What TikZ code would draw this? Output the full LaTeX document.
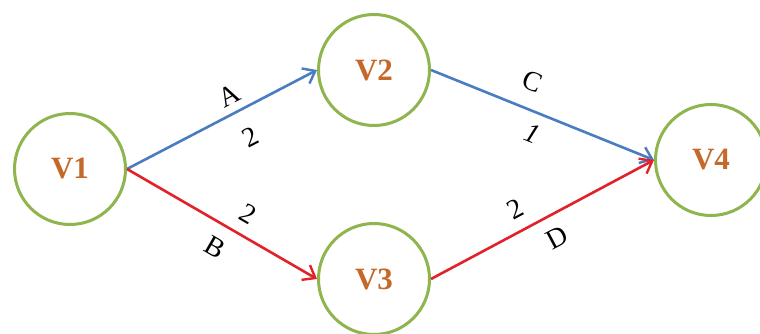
\documentclass[tikz,border=0pt]{standalone}
\usepackage{fontspec}
\setmainfont{Liberation Serif}
\usetikzlibrary{arrows.meta}
\definecolor{ringgreen}{HTML}{8FB54E}
\definecolor{vtext}{HTML}{C4692A}
\definecolor{eblue}{HTML}{4A7CC0}
\definecolor{ered}{HTML}{E2222A}
\tikzset{
  vnode/.style={circle,draw=ringgreen,line width=3pt,minimum size=111pt,inner sep=0pt,
    font=\fontsize{31}{31}\selectfont\bfseries,text=vtext},
  edgearrow/.style={line width=2.6pt,-{Straight Barb[length=11pt,width=17pt,line width=2.4pt]}},
  elabel/.style={inner sep=0pt,sloped,font=\fontsize{28}{28}\selectfont,text=black}
}
\begin{document}
\begin{tikzpicture}[x=1pt,y=-1pt]
\useasboundingbox (0,0) rectangle (760,334);
\fill[white] (0,0) rectangle (760,334);
\clip (0,0) rectangle (760,334);
\node[vnode] (v1) at (70,169) {V1};
\node[vnode] (v2) at (374,70) {V2};
\node[vnode] (v3) at (374,279) {V3};
\node[vnode] (v4) at (711,160) {V4};
\draw[edgearrow,eblue] (v1.east) -- node[elabel,pos=0.58,above=7pt] (la) {A}
  node[elabel,pos=0.58,below=18pt] (lw1) {2} (v2.west);
\draw[edgearrow,ered] (v1.east) -- node[elabel,pos=0.58,above=11pt] (lw2) {2}
  node[elabel,pos=0.525,below=13pt] (lb) {B} (v3.west);
\draw[edgearrow,eblue] (v2.east) -- node[elabel,pos=0.41,above=17pt] (lc) {C}
  node[elabel,pos=0.49,below=10pt] (lw3) {\textit{1}} (v4.west);
\draw[edgearrow,ered] (v3.east) -- node[elabel,pos=0.424,above=12pt] (lw4) {2}
  node[elabel,pos=0.517,below=12pt] (ld) {D} (v4.west);
\end{tikzpicture}
\end{document}
